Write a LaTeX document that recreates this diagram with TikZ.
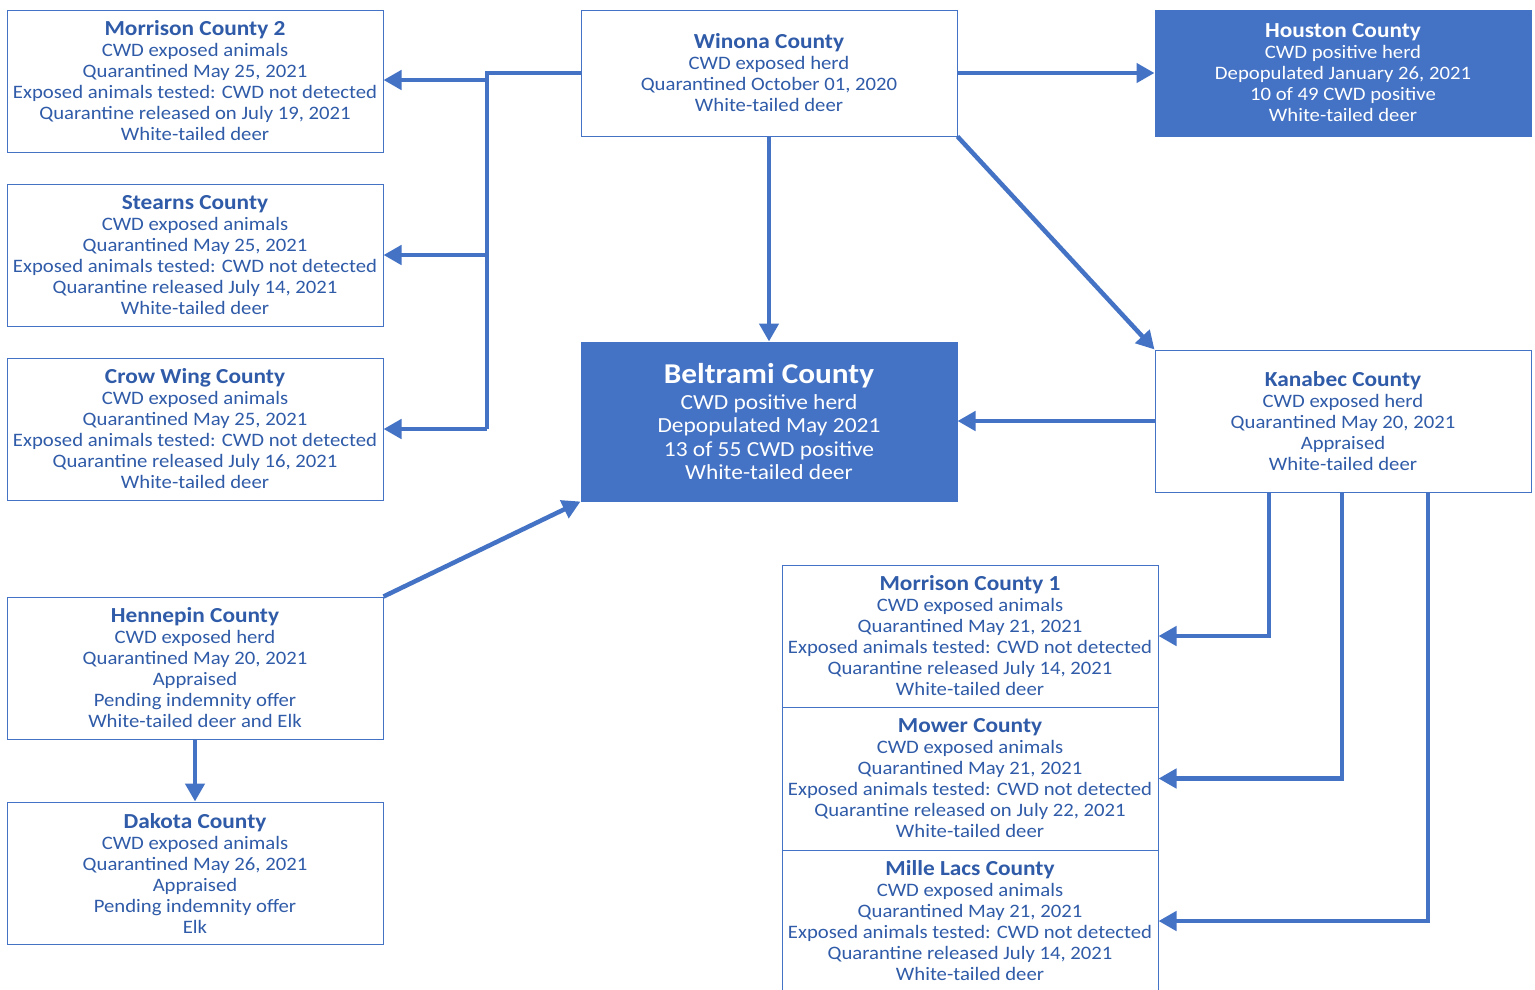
\documentclass[tikz,border=0pt]{standalone}
\usepackage{fontspec}
\setmainfont{Carlito}[FakeStretch=1.09]
\usetikzlibrary{arrows.meta}
\definecolor{fillblue}{HTML}{4472C4}
\definecolor{txtblue}{HTML}{2F5BA8}
\newcommand\ttl{\fontsize{21.4}{21}\selectfont\bfseries}
\newcommand\bigttl{\fontsize{28.7}{28}\selectfont\bfseries}
\begin{document}
\begin{tikzpicture}[x=1pt,y=-1pt,
  plainbox/.style={draw=fillblue, line width=1pt, fill=white, text=txtblue,
    minimum width=376pt, minimum height=142pt, inner sep=0pt, align=center,
    font=\fontsize{19}{21}\selectfont},
  solidbox/.style={plainbox, fill=fillblue, text=white},
  busline/.style={draw=fillblue, line width=4.5pt, line join=miter},
  conn/.style={draw=fillblue, line width=4.5pt, -{Triangle[length=18pt,width=19pt]}}]
\clip (0,0) rectangle (1535,989);
\fill[white] (0,0) rectangle (1535,989);

\node[plainbox] (mor2) at (195,81) {{\ttl Morrison County 2}\\CWD exposed animals\\Quarantined May 25, 2021\\Exposed animals tested: CWD not detected\\Quarantine released on July 19, 2021\\White-tailed deer};
\node[plainbox] (st) at (195,255) {{\ttl Stearns County}\\CWD exposed animals\\Quarantined May 25, 2021\\Exposed animals tested: CWD not detected\\Quarantine released July 14, 2021\\White-tailed deer};
\node[plainbox] (cw) at (195,429) {{\ttl Crow Wing County}\\CWD exposed animals\\Quarantined May 25, 2021\\Exposed animals tested: CWD not detected\\Quarantine released July 16, 2021\\White-tailed deer};
\node[plainbox] (hen) at (195,668) {{\ttl Hennepin County}\\CWD exposed herd\\Quarantined May 20, 2021\\Appraised\\Pending indemnity offer\\White-tailed deer and Elk};
\node[plainbox] (dak) at (195,873) {{\ttl Dakota County}\\CWD exposed animals\\Quarantined May 26, 2021\\Appraised\\Pending indemnity offer\\Elk};

\node[plainbox, minimum height=126pt] (win) at (769,73) {{\ttl Winona County}\\CWD exposed herd\\Quarantined October 01, 2020\\White-tailed deer};
\node[solidbox, minimum height=126pt] (hou) at (1343,73) {{\ttl Houston County}\\CWD positive herd\\Depopulated January 26, 2021\\10 of 49 CWD positive\\White-tailed deer};
\node[solidbox, minimum height=159pt, font=\fontsize{21.5}{23.5}\selectfont] (bel) at (769,421.5) {{\bigttl Beltrami County}\\[2pt]CWD positive herd\\Depopulated May 2021\\13 of 55 CWD positive\\White-tailed deer};
\node[plainbox] (kan) at (1343,421) {{\ttl Kanabec County}\\CWD exposed herd\\Quarantined May 20, 2021\\Appraised\\White-tailed deer};

\node[plainbox] (mor1) at (970,636) {{\ttl Morrison County 1}\\CWD exposed animals\\Quarantined May 21, 2021\\Exposed animals tested: CWD not detected\\Quarantine released July 14, 2021\\White-tailed deer};
\node[plainbox, minimum height=143pt] (mow) at (970,778.5) {{\ttl Mower County}\\CWD exposed animals\\Quarantined May 21, 2021\\Exposed animals tested: CWD not detected\\Quarantine released on July 22, 2021\\White-tailed deer};
\node[plainbox] (mil) at (970,921) {{\ttl Mille Lacs County}\\CWD exposed animals\\Quarantined May 21, 2021\\Exposed animals tested: CWD not detected\\Quarantine released July 14, 2021\\White-tailed deer};

% bus from Winona to the left column
\coordinate (busT) at (487,73);
\coordinate (b1) at (487,80);
\coordinate (b2) at (487,255);
\coordinate (busB) at (487,429);
\draw[busline] (win.west) -- (busT) -- (busB);
\draw[conn] (b1) -- (b1 -| mor2.east);
\draw[conn] (b2) -- (b2 -| st.east);
\draw[conn] (busB) -- (busB -| cw.east);

\draw[conn] (win.south) -- (bel.north);
\draw[conn] (win.east) -- (hou.west);
\draw[conn] (win.south east) -- (kan.north west);
\draw[conn] (kan.west) -- (kan.west -| bel.east);
\draw[conn] (hen.north east) -- (bel.south west);
\draw[conn] (hen.south) -- (dak.north);

\draw[conn] ([xshift=-74pt]kan.south) |- (mor1.east);
\draw[conn] ([xshift=-1pt]kan.south) |- (mow.east);
\draw[conn] ([xshift=85pt]kan.south) |- (mil.east);
\end{tikzpicture}
\end{document}
